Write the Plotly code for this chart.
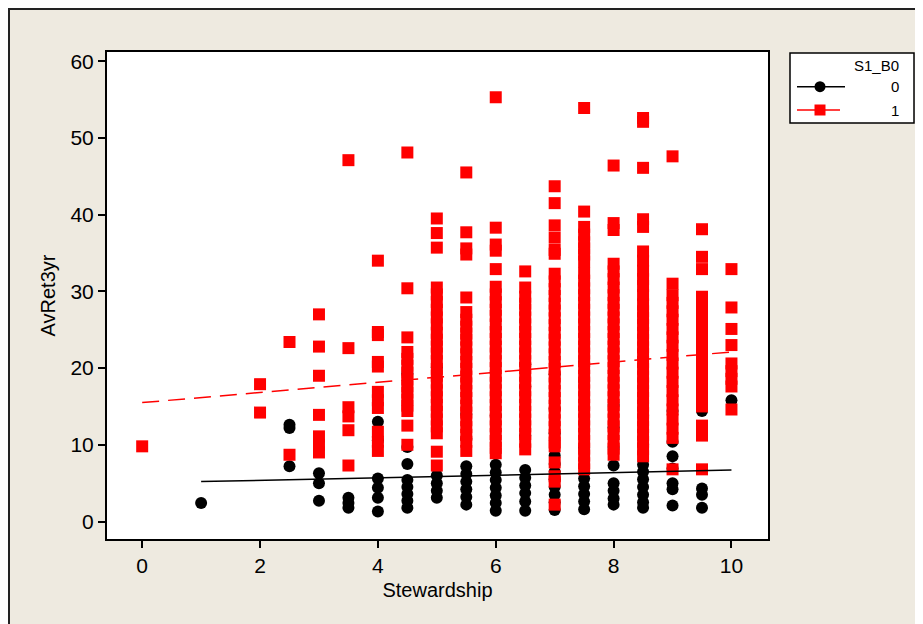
import plotly.graph_objects as go

# ---------------- data ----------------
stewardship_g0 = [1, 2.5, 3, 3.5, 4, 4.5, 5, 5.5, 6, 6.5, 7, 7.5, 8, 8.5, 9, 9.5, 10]
avret_g0 = [
    [2.4],
    [12.6, 12.2, 7.2],
    [6.3, 5.0, 2.7],
    [3.1, 2.4, 1.8],
    [13.0, 10.6, 5.6, 4.4, 3.1, 1.3],
    [19.3, 9.7, 7.5, 5.4, 4.5, 3.6, 2.7, 1.8],
    [20.1, 6.0, 5.0, 4.0, 3.1],
    [14.0, 10.8, 7.2, 6.2, 5.2, 4.2, 3.2, 2.2],
    [13.8, 7.4, 6.4, 5.4, 4.4, 3.4, 2.4, 1.4],
    [20.5, 17.6, 11.2, 6.7, 5.7, 4.7, 3.7, 2.6, 1.4],
    [19.2, 14.7, 11.5, 8.6, 7.5, 6.5, 5.5, 4.5, 3.5, 2.5, 1.5],
    [20.8, 18.3, 14.8, 9.6, 5.6, 4.6, 3.6, 2.6, 1.6],
    [15.2, 12.3, 9.6, 7.3, 5.0, 4.0, 3.0, 2.2],
    [13.8, 10.0, 7.4, 6.5, 5.5, 4.5, 3.5, 2.5, 1.8],
    [14.4, 10.4, 8.5, 6.9, 5.0, 4.2, 2.1],
    [14.4, 12.4, 4.3, 3.5, 1.8],
    [15.8],
]

stewardship_g1 = [0, 2, 2.5, 3, 3.5, 4, 4.5, 5, 5.5, 6, 6.5, 7, 7.5, 8, 8.5, 9, 9.5, 10]
avret_g1 = [
    [9.8],
    [17.9, 14.2],
    [23.4, 8.7],
    [27.0, 22.8, 19.0, 13.9, 11.1, 10.0, 9.0],
    [47.1, 22.6, 14.9, 13.7, 11.9, 7.3],
    [34.0, 24.7, 24.3, 20.8, 20.2, 16.9, 15.8, 14.8, 11.7, 10.4, 9.2],
    [48.1, 30.4, 24.0, 22.1, 21.2, 20.3, 19.4, 18.5, 17.6, 16.8, 15.9, 15.1, 14.4, 12.5, 10.0],
    [39.5, 37.6, 35.7, 30.5, 29.6, 28.6, 27.6, 26.6, 25.7, 24.6, 23.7, 22.8, 21.9, 20.9, 19.9,
     19.0, 18.1, 17.1, 16.2, 15.2, 14.3, 13.3, 12.4, 11.5, 9.1, 7.3],
    [45.5, 37.7, 35.6, 34.8, 29.2, 27.3, 26.3, 25.4, 24.5, 23.7, 22.7, 21.8, 20.8, 19.9, 18.9,
     18.0, 17.0, 16.1, 15.1, 14.2, 13.2, 12.3, 11.3, 10.4, 9.2],
    [55.3, 38.3, 36.1, 35.3, 32.9, 30.6, 29.6, 28.6, 27.6, 26.8, 25.7, 24.7, 23.8, 22.8, 21.9,
     20.9, 20.0, 19.0, 18.1, 17.1, 16.2, 15.2, 14.3, 13.3, 12.4, 11.4, 10.5, 9.6, 8.9],
    [32.6, 30.5, 29.3, 28.4, 27.6, 26.6, 25.7, 24.7, 23.8, 22.8, 21.9, 20.9, 20.0, 19.0, 18.1,
     17.1, 16.2, 15.2, 14.3, 13.3, 12.4, 11.4, 10.4, 9.4],
    [43.7, 41.5, 38.6, 37.0, 35.4, 34.9, 32.3, 31.3, 30.3, 29.4, 28.4, 27.5, 26.5, 25.6, 24.6,
     23.7, 22.7, 21.8, 20.8, 19.9, 18.9, 18.0, 17.0, 16.1, 15.1, 14.2, 13.2, 12.3, 11.3,
     10.3, 9.8, 7.7, 5.9, 5.2, 2.2],
    [53.9, 40.4, 38.4, 37.4, 36.4, 35.6, 34.8, 33.9, 32.4, 31.4, 30.4, 29.5, 28.5, 27.6, 26.6,
     25.7, 24.7, 23.8, 22.8, 21.9, 20.9, 20.0, 19.0, 18.1, 17.1, 16.2, 15.2, 14.3, 13.3,
     12.4, 11.4, 10.5, 9.5, 8.6, 7.6, 6.8],
    [46.4, 38.9, 38.0, 33.6, 32.6, 31.6, 30.5, 29.5, 28.5, 27.6, 26.6, 25.7, 24.7, 23.8, 22.8,
     21.9, 20.9, 20.0, 19.0, 18.1, 17.1, 16.2, 15.2, 14.3, 13.3, 12.4, 11.4, 10.5, 9.5, 8.7],
    [52.6, 52.1, 46.1, 39.4, 38.4, 35.2, 34.0, 32.7, 31.6, 30.7, 29.5, 28.3, 27.4, 26.5, 25.6,
     24.6, 23.7, 22.7, 21.8, 20.8, 19.9, 18.9, 18.0, 17.0, 16.1, 15.1, 14.2, 13.2, 12.3,
     11.3, 10.4, 9.4, 8.5],
    [47.6, 31.0, 29.5, 28.5, 27.4, 26.3, 25.1, 24.0, 22.9, 21.7, 20.6, 19.4, 18.2, 17.0, 15.8,
     14.6, 13.3, 12.1, 10.9, 6.8],
    [38.1, 34.5, 32.9, 29.3, 28.8, 27.8, 26.9, 25.9, 24.9, 23.9, 23.0, 22.0, 21.0, 20.0, 19.0,
     18.0, 17.0, 16.0, 15.0, 12.5, 11.2, 6.8],
    [32.9, 27.9, 25.1, 23.0, 20.6, 19.6, 18.6, 17.6, 14.6],
]

# fitted regression lines (end points)
fit_x0 = [1, 10]
fit_y0 = [5.2, 6.7]
fit_x1 = [0, 10]
fit_y1 = [15.5, 22.1]

x_ticks = [0, 2, 4, 6, 8, 10]
y_ticks = [0, 10, 20, 30, 40, 50, 60]


def flatten(levels, values):
    xs, ys = [], []
    for lv, col in zip(levels, values):
        for v in col:
            xs.append(lv)
            ys.append(v)
    return xs, ys


x0, y0 = flatten(stewardship_g0, avret_g0)
x1, y1 = flatten(stewardship_g1, avret_g1)

FONT = "Liberation Sans, Arial, sans-serif"
BG = "#EEEAE0"
RED = "#FF0000"

fig = go.Figure()
fig.add_trace(go.Scatter(x=x0, y=y0, mode="markers", name="0",
                         marker=dict(symbol="circle", size=12, color="black", line=dict(width=0)),
                         showlegend=False))
fig.add_trace(go.Scatter(x=x1, y=y1, mode="markers", name="1",
                         marker=dict(symbol="square", size=12, color=RED, line=dict(width=0)),
                         showlegend=False))
fig.add_trace(go.Scatter(x=fit_x0, y=fit_y0, mode="lines",
                         line=dict(color="black", width=1.5), showlegend=False, hoverinfo="skip"))
fig.add_trace(go.Scatter(x=fit_x1, y=fit_y1, mode="lines",
                         line=dict(color=RED, width=1.5, dash="17px,9px"), showlegend=False,
                         hoverinfo="skip"))

# The page body has an 8px margin, so figure coordinates = page coordinates - 8.
OFF = 8
W, H = 923 - OFF, 624 - OFF
# plot area in page pixels: left 107, right 768, top 52, bottom 539
L, R, T, B = 107 - OFF, 768 - OFF, 52 - OFF, 539 - OFF
PW, PH = R - L, B - T


def px(xp):
    return (xp - OFF - L) / PW


def py(yp):
    return (B - (yp - OFF)) / PH


shapes = []
# outer frame of the graph window
shapes.append(dict(type="rect", xref="paper", yref="paper",
                   x0=px(9), x1=px(940), y0=py(640), y1=py(9),
                   line=dict(color="#222222", width=2), fillcolor="rgba(0,0,0,0)", layer="below"))
# legend box
shapes.append(dict(type="rect", xref="paper", yref="paper",
                   x0=px(790), x1=px(914), y0=py(123), y1=py(53),
                   line=dict(color="black", width=1.5), fillcolor="white"))
# legend entry 0: line + circle
shapes.append(dict(type="line", xref="paper", yref="paper",
                   x0=px(797), x1=px(845), y0=py(86.7), y1=py(86.7),
                   line=dict(color="black", width=1.5)))
shapes.append(dict(type="circle", xref="paper", yref="paper",
                   x0=px(814.5), x1=px(825.5), y0=py(92.2), y1=py(81.2),
                   line=dict(color="black", width=0), fillcolor="black"))
# legend entry 1: red line + square
shapes.append(dict(type="line", xref="paper", yref="paper",
                   x0=px(797), x1=px(840), y0=py(110), y1=py(110),
                   line=dict(color=RED, width=1.5)))
shapes.append(dict(type="rect", xref="paper", yref="paper",
                   x0=px(814.5), x1=px(825.5), y0=py(115.5), y1=py(104.5),
                   line=dict(color=RED, width=0), fillcolor=RED))

annotations = [
    dict(text="S1_B0", xref="paper", yref="paper", x=px(901), y=py(66), xanchor="right",
         yanchor="middle", showarrow=False, font=dict(size=15, color="black", family=FONT)),
    dict(text="0", xref="paper", yref="paper", x=px(901), y=py(86.7), xanchor="right",
         yanchor="middle", showarrow=False, font=dict(size=15, color="black", family=FONT)),
    dict(text="1", xref="paper", yref="paper", x=px(901), y=py(110), xanchor="right",
         yanchor="middle", showarrow=False, font=dict(size=15, color="black", family=FONT)),
]

fig.update_layout(
    width=W, height=H,
    margin=dict(l=L, r=W - R, t=T, b=H - B, pad=0),
    paper_bgcolor=BG, plot_bgcolor="white",
    font=dict(family=FONT, size=21, color="black"),
    shapes=shapes, annotations=annotations,
    showlegend=False,
)
fig.update_xaxes(range=[-0.597, 10.62], tickvals=x_ticks, ticks="outside", ticklen=7,
                 tickwidth=1.5, tickcolor="black", showgrid=False, zeroline=False,
                 showline=True, linecolor="black", linewidth=2, mirror=True,
                 tickfont=dict(size=21, family=FONT),
                 title=dict(text="Stewardship", font=dict(size=20, family=FONT), standoff=7))
fig.update_yaxes(range=[-2.28, 61.2], tickvals=y_ticks, ticks="outside", ticklen=7,
                 tickwidth=1.5, tickcolor="black", showgrid=False, zeroline=False,
                 showline=True, linecolor="black", linewidth=2, mirror=True,
                 tickfont=dict(size=21, family=FONT),
                 title=dict(text="AvRet3yr", font=dict(size=20, family=FONT), standoff=9))

fig.write_html("out.html")
